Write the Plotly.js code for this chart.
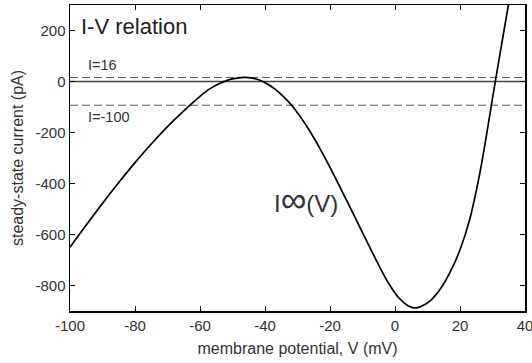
<!DOCTYPE html>
<html>
<head>
<meta charset="utf-8">
<script src="https://cdn.plot.ly/plotly-3.0.1.min.js"></script>
<style>html,body{margin:0;padding:0;background:#fff;}#chart{width:532px;height:363px;}</style>
</head>
<body>
<div id="chart"></div>
<script>
// Steady-state I-V curve
const voltage = [-100,-95,-90,-85,-80,-75,-70,-65,-60,-57,-54,-52,-50,-48,-46,-43,-40,-37,-34,-31.8,-29,-26,-23,-20,-15,-10,-5,-2,1,4,6,8,11,14,17,20,23,26,28,30,32,34,36];
const current = [-650,-563,-478,-396,-318,-245,-177,-115,-58,-29,-8,2.5,10,14.5,16,10.6,-4.4,-29,-63,-93,-140.6,-199,-265,-337,-463.5,-592.5,-720,-790.5,-846,-879,-888,-882,-858,-813,-747,-660,-540,-366,-222,-66,86,234,380];
// Reference current levels
const levelValues = [16, -93];
const levelLabels = ["I=16", "I=-100"];
const zeroLevel = 0;
const xRange = [-100, 40];
const yRange = [-900, 300];
const xTicks = [-100, -80, -60, -40, -20, 0, 20, 40];
const xTickText = ["-100", "-80", "-60", "-40", "-20", "0", "20", "40"];
const yTicks = [-800, -600, -400, -200, 0, 200];
const yTickText = ["-800", "-600", "-400", "-200", "0", "200"];

const traces = [];
traces.push({x: xRange, y: [zeroLevel, zeroLevel], mode: 'lines', line: {color: '#444', width: 1.4}, hoverinfo: 'skip'});
levelValues.forEach(v => traces.push({x: xRange, y: [v, v], mode: 'lines', line: {color: '#555', width: 1, dash: '8px,4px'}, hoverinfo: 'skip'}));
traces.push({x: voltage, y: current, mode: 'lines', line: {color: '#000', width: 1.7, shape: 'spline', smoothing: 1}, hoverinfo: 'skip'});

const fam = 'Liberation Sans, Arial, sans-serif';
const layout = {
  width: 532, height: 363,
  margin: {l: 70, r: 7, t: 5, b: 52},
  showlegend: false,
  paper_bgcolor: '#fff', plot_bgcolor: '#fff',
  font: {family: fam, color: '#333', size: 15},
  xaxis: {range: xRange, tickvals: xTicks, ticktext: xTickText, ticks: 'inside', ticklen: 5, tickcolor: '#000',
    showline: true, mirror: 'ticks', linecolor: '#000', linewidth: 1.5, showgrid: false, zeroline: false,
    ticklabeloverflow: 'allow',
    tickfont: {family: fam, size: 15, color: '#333'},
    title: {text: 'membrane potential, V (mV)', font: {family: fam, size: 16, color: '#333'}, standoff: 10}},
  yaxis: {range: yRange, tickvals: yTicks, ticktext: yTickText, ticks: 'inside', ticklen: 5, tickcolor: '#000',
    showline: true, mirror: 'ticks', linecolor: '#000', linewidth: 1.5, showgrid: false, zeroline: false,
    ticklabeloverflow: 'allow',
    tickfont: {family: fam, size: 15, color: '#333'},
    title: {text: 'steady-state current (pA)', font: {family: fam, size: 16, color: '#333'}, standoff: 8}},
  annotations: [
    {x: -97.2, y: 215, xref: 'x', yref: 'y', text: 'I-V relation', showarrow: false, xanchor: 'left', yanchor: 'middle', font: {family: fam, size: 22, color: '#222'}},
    {x: -95, y: levelValues[0], xref: 'x', yref: 'y', text: levelLabels[0], showarrow: false, xanchor: 'left', yanchor: 'bottom', yshift: 2, font: {family: fam, size: 14.5, color: '#333'}},
    {x: -95, y: levelValues[1], xref: 'x', yref: 'y', text: levelLabels[1], showarrow: false, xanchor: 'left', yanchor: 'top', yshift: -2, font: {family: fam, size: 14.5, color: '#333'}},
    {x: -16.8, y: -462, xref: 'x', yref: 'y', text: 'I<span style="font-size:36px">∞</span>(V)', showarrow: false, xanchor: 'right', yanchor: 'middle', font: {family: fam, size: 24, color: '#333'}}
  ]
};
Plotly.newPlot('chart', traces, layout, {staticPlot: true, displayModeBar: false});
</script>
</body>
</html>
